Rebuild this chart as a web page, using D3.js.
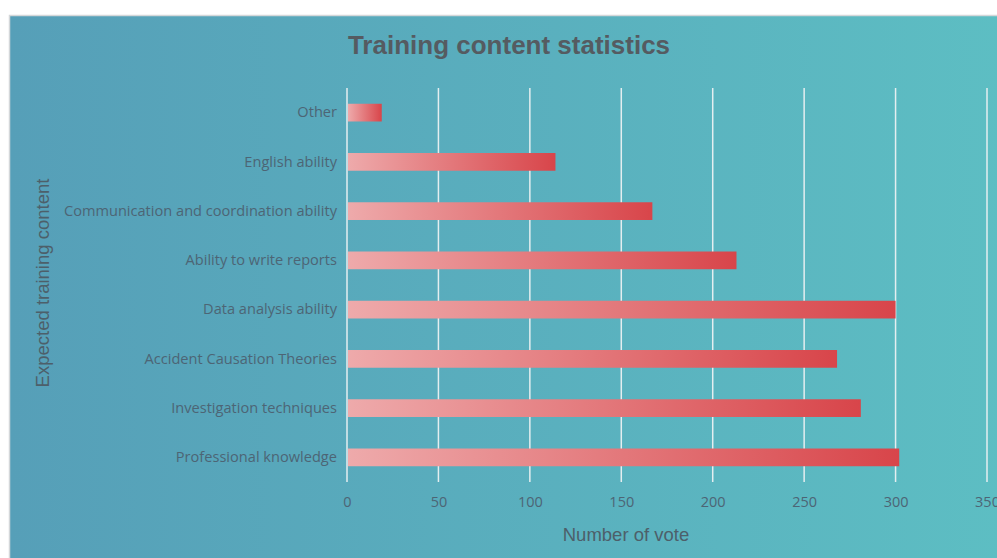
<!DOCTYPE html>
<html>
<head>
<meta charset="utf-8">
<script src="https://cdn.jsdelivr.net/npm/d3@7"></script>
<style>
  body { margin: 0; background: #fff; }
  svg { display: block; }
</style>
</head>
<body>
<div id="chart"></div>
<script>
// Data
let categories = ["Other", "English ability", "Communication and coordination ability",
  "Ability to write reports", "Data analysis ability", "Accident Causation Theories",
  "Investigation techniques", "Professional knowledge"];
let votes = [19, 114, 167, 213, 300, 268, 281, 302];
let xTicks = [0, 50, 100, 150, 200, 250, 300, 350];

let W = 997, H = 558;
let plotLeft = 347, plotRight = 987, plotTop = 88, plotBottom = 482;

let svg = d3.select("#chart").append("svg")
  .attr("width", W)
  .attr("height", H);

let defs = svg.append("defs");

// background gradient
let bg = defs.append("linearGradient").attr("id", "bg")
  .attr("x1", 0).attr("x2", 1).attr("y1", 0).attr("y2", 0);
bg.append("stop").attr("offset", 0).attr("stop-color", "#569fb8");
bg.append("stop").attr("offset", 1).attr("stop-color", "#5dbec3");

// bar gradient
let barGrad = defs.append("linearGradient").attr("id", "bar")
  .attr("x1", 0).attr("x2", 1).attr("y1", 0).attr("y2", 0);
barGrad.append("stop").attr("offset", 0).attr("stop-color", "#eeaaab");
barGrad.append("stop").attr("offset", 1).attr("stop-color", "#d8454a");

svg.append("rect")
  .attr("x", 9.5).attr("y", 15.5)
  .attr("width", W).attr("height", H)
  .attr("fill", "url(#bg)")
  .attr("stroke", "#d4d7d9")
  .attr("stroke-width", 1.5);

let x = d3.scaleLinear().domain([0, 350]).range([plotLeft, plotRight]);
let y = d3.scaleBand().domain(categories).range([plotTop, plotBottom]).paddingInner(0.64).paddingOuter(0.32);

// gridlines
svg.append("g").selectAll("line")
  .data(xTicks)
  .enter().append("line")
  .attr("x1", d => x(d)).attr("x2", d => x(d))
  .attr("y1", plotTop).attr("y2", plotBottom)
  .attr("stroke", "#e4eef0")
  .attr("stroke-width", 1.5);

// bars
svg.append("g").selectAll("rect")
  .data(votes)
  .enter().append("rect")
  .attr("x", x(0) + 1)
  .attr("y", (d, i) => y(categories[i]))
  .attr("width", d => x(d) - x(0) - 1)
  .attr("height", y.bandwidth())
  .attr("fill", "url(#bar)");

// x axis
let xAxis = svg.append("g")
  .attr("transform", "translate(0," + (plotBottom + 11) + ")")
  .call(d3.axisBottom(x).tickValues(xTicks).tickSize(0).tickPadding(4));
xAxis.select(".domain").remove();
xAxis.selectAll("text")
  .attr("font-family", "Open Sans, sans-serif")
  .attr("font-size", 14.5)
  .attr("fill", "#4d6575");

// y axis
let yAxis = svg.append("g")
  .attr("transform", "translate(" + (plotLeft - 10) + ",0)")
  .call(d3.axisLeft(y).tickSize(0).tickPadding(0));
yAxis.select(".domain").remove();
yAxis.selectAll("text")
  .attr("font-family", "Open Sans, sans-serif")
  .attr("font-size", 14.6)
  .attr("fill", "#4d6575");

// titles
svg.append("text")
  .attr("x", 509).attr("y", 54)
  .attr("text-anchor", "middle")
  .attr("font-family", "Liberation Sans, Arial, sans-serif")
  .attr("font-weight", "bold")
  .attr("font-size", 26)
  .attr("fill", "#555b61")
  .text("Training content statistics");

svg.append("text")
  .attr("x", 626).attr("y", 541)
  .attr("text-anchor", "middle")
  .attr("font-family", "Liberation Sans, Arial, sans-serif")
  .attr("font-size", 18.5)
  .attr("fill", "#4d5f6a")
  .text("Number of vote");

svg.append("text")
  .attr("transform", "translate(49,283) rotate(-90)")
  .attr("text-anchor", "middle")
  .attr("font-family", "Liberation Sans, Arial, sans-serif")
  .attr("font-size", 18.5)
  .attr("fill", "#4d5f6a")
  .text("Expected training content");
</script>
</body>
</html>
